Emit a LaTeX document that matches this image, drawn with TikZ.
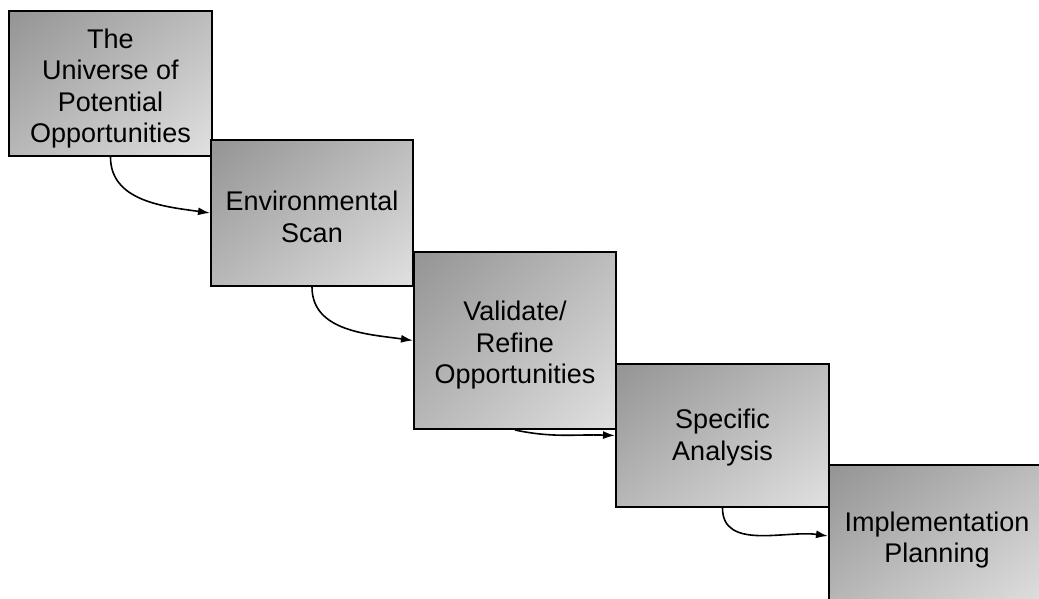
\documentclass[tikz,border=0pt]{standalone}
\usepackage{fontspec}
\setmainfont{Liberation Sans}
\usetikzlibrary{arrows.meta,shadings}

\begin{document}
\begin{tikzpicture}[
    x=1pt,y=-1pt,
    stage/.style={draw=black,line width=2pt,anchor=north west,
        inner sep=0pt,shade,upper left=black!42,upper right=black!26,
        lower left=black!28,lower right=black!12},
    caption/.style={align=center,font={\fontsize{27}{31.5}\selectfont}},
    flow/.style={-{Latex[length=12pt,width=8pt]},line width=1.6pt},
    ]
    \useasboundingbox (0,0) rectangle (1039,599);
    % Stage boxes, running down the stairs
    \node[stage,minimum width=203pt,minimum height=145pt] (universe) at (8,10) {};
    \node[stage,minimum width=202pt,minimum height=146pt] (scan) at (210,139) {};
    \node[stage,minimum width=202pt,minimum height=177pt] (refine) at (413,251) {};
    \node[stage,minimum width=213pt,minimum height=143pt] (analysis) at (615,363) {};
    \node[stage,minimum width=216pt,minimum height=142pt] (planning) at (828,464) {};
    % Box texts
    \node[caption] at ([yshift=-5pt]universe.center)
        {The\\Universe of\\Potential\\Opportunities};
    \node[caption] at ([yshift=-4pt]scan.center) {Environmental\\Scan};
    \node[caption] at ([yshift=-5pt]refine.center)
        {Validate/\\Refine\\Opportunities};
    \node[caption] at ([yshift=-2pt]analysis.center) {Specific\\Analysis};
    \node[caption] at ([yshift=-4pt]planning.center)
        {Implementation\\Planning};
    % Connectors from each box to the next one
    \draw[flow] (universe.south) to[out=-90,in=172] (scan.west);
    \draw[flow] (scan.south) to[out=-90,in=172] (refine.west);
    \draw[flow] (refine.south) to[out=-12,in=178] (analysis.west);
    \draw[flow] (analysis.south) to[out=-90,in=172] (planning.west);
\end{tikzpicture}
\end{document}
